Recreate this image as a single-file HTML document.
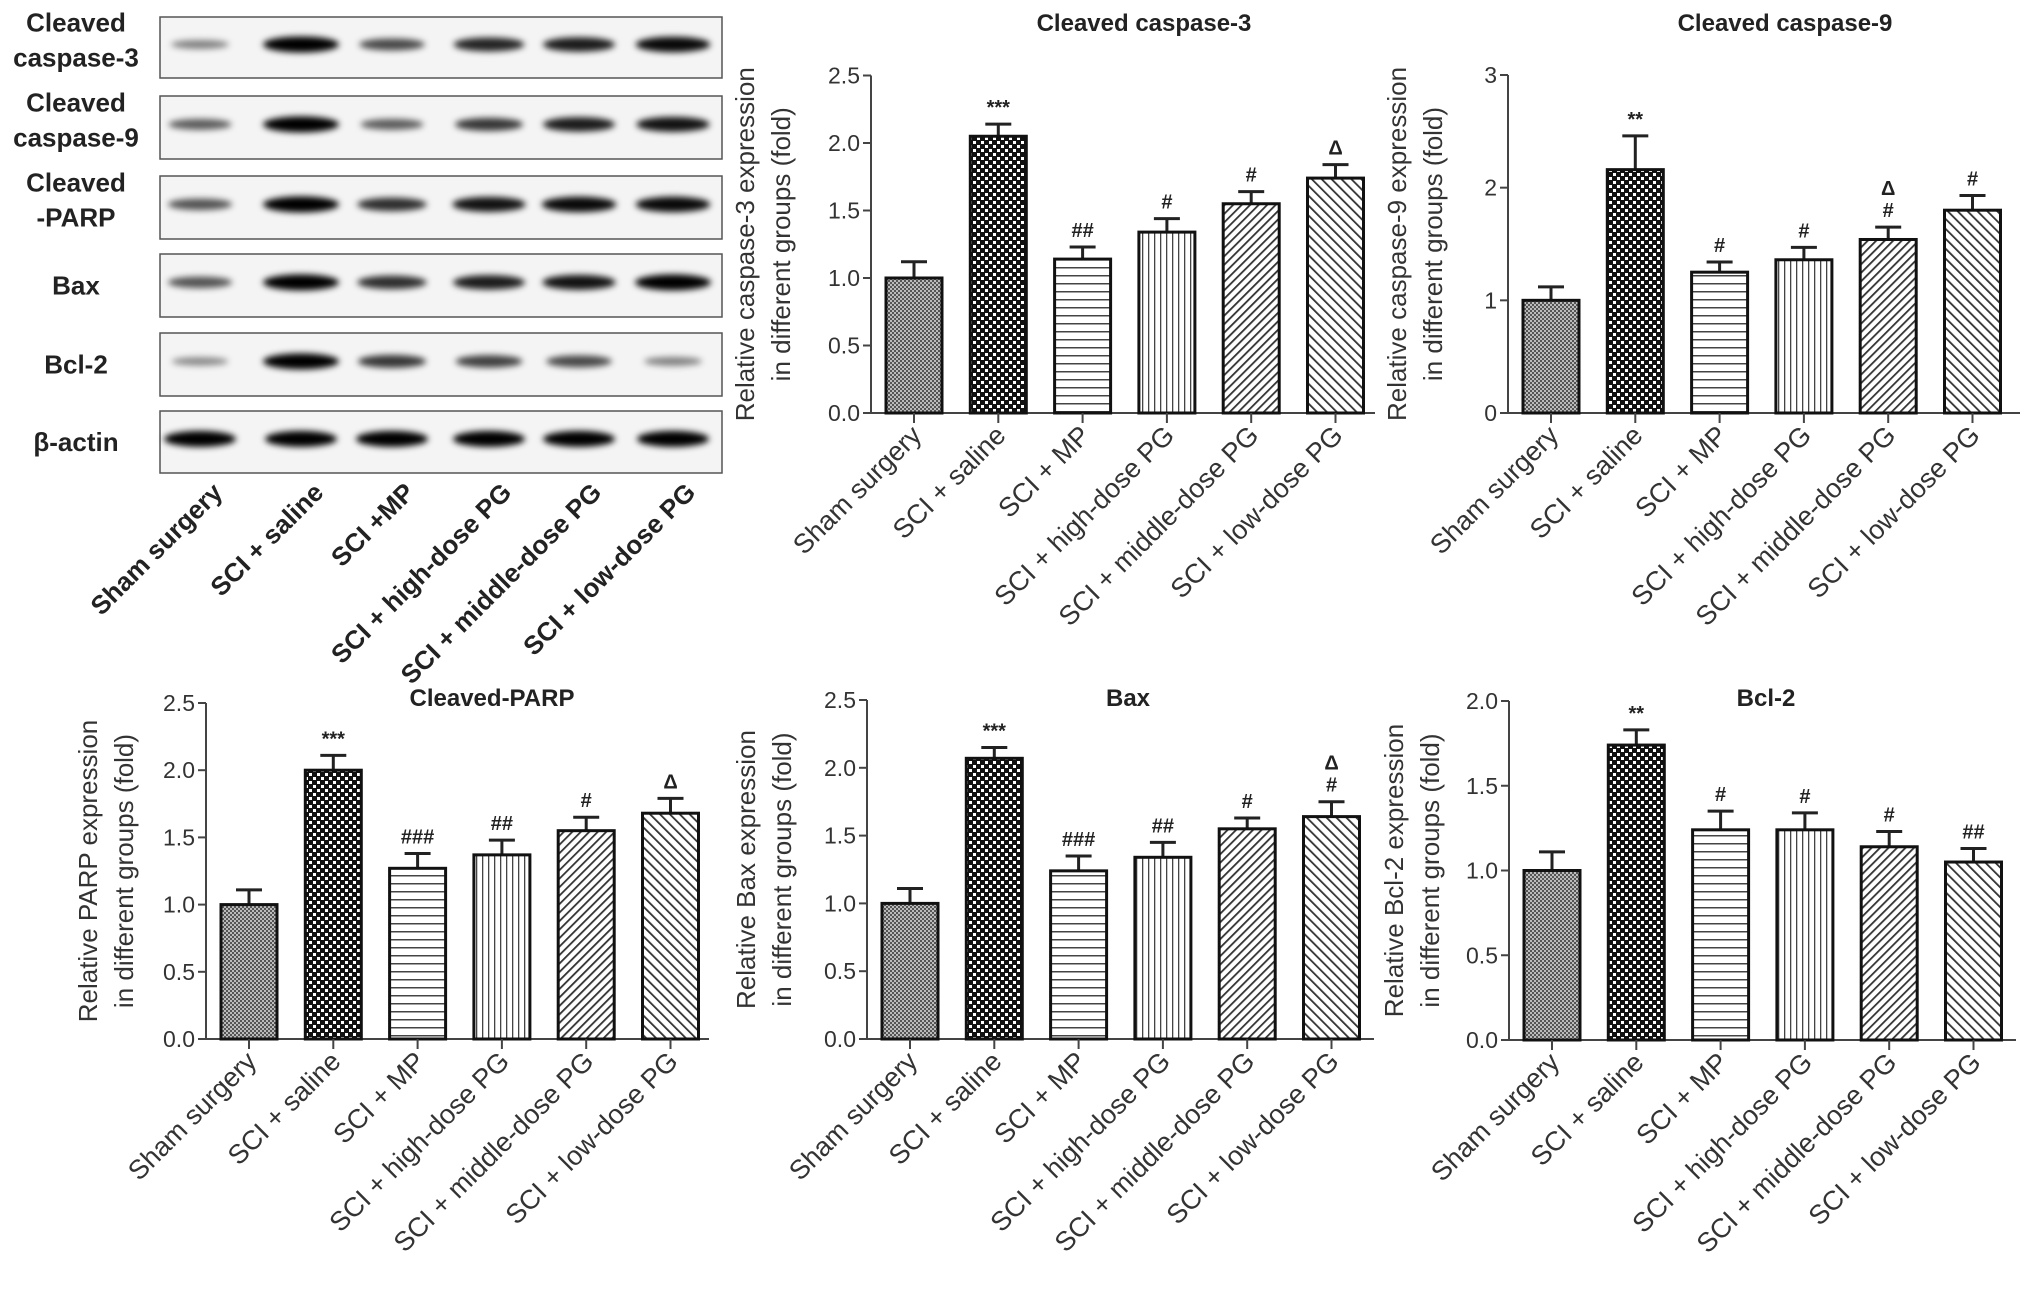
<!DOCTYPE html>
<html><head><meta charset="utf-8"><style>
html,body{margin:0;padding:0;background:#fff;}
svg{display:block;font-family:"Liberation Sans",Arial,sans-serif;}
.tick{font-size:23px;fill:#333;}
.ylab{font-size:26px;fill:#333;}
.xlab{font-size:27px;fill:#333;}
.ttl{font-size:24px;font-weight:bold;fill:#222;font-family:"Liberation Sans Narrow","Liberation Sans",sans-serif;}
.ann{font-size:20px;fill:#222;font-weight:bold;}
.blab{font-size:26px;font-weight:bold;fill:#222;font-family:"Liberation Sans Narrow","Liberation Sans",sans-serif;}
.bx{font-size:26px;font-weight:bold;fill:#222;}
</style></head><body>
<svg id="fig" width="2031" height="1289" viewBox="0 0 2031 1289" xmlns="http://www.w3.org/2000/svg">
<defs>
<pattern id="p0" width="4" height="4" patternUnits="userSpaceOnUse"><rect width="4" height="4" fill="#bbb"/><rect width="2" height="2" fill="#555"/><rect x="2" y="2" width="2" height="2" fill="#555"/></pattern>
<pattern id="p1" width="8" height="8" patternUnits="userSpaceOnUse"><rect width="8" height="8" fill="#111"/><rect x="1" y="1" width="3" height="3" fill="#fff"/><rect x="5" y="5" width="3" height="3" fill="#fff"/></pattern>
<pattern id="p2" width="8" height="8" patternUnits="userSpaceOnUse"><rect width="8" height="8" fill="#fff"/><rect y="3" width="8" height="1.5" fill="#444"/></pattern>
<pattern id="p3" width="6" height="6" patternUnits="userSpaceOnUse"><rect width="6" height="6" fill="#fff"/><rect x="2" width="1.3" height="6" fill="#444"/></pattern>
<pattern id="p4" width="6" height="6" patternUnits="userSpaceOnUse" patternTransform="rotate(45)"><rect width="6" height="6" fill="#fff"/><rect x="2" width="1.8" height="6" fill="#333"/></pattern>
<pattern id="p5" width="7" height="7" patternUnits="userSpaceOnUse" patternTransform="rotate(-45)"><rect width="7" height="7" fill="#fff"/><rect x="2" width="1.8" height="7" fill="#333"/></pattern>
<filter id="blur" x="-30%" y="-100%" width="160%" height="300%"><feGaussianBlur stdDeviation="3.2"/></filter>
</defs>
<g id="blots"></g>
<g id="charts"></g>
</svg>
<script>
const NS="http://www.w3.org/2000/svg";
const categories=["Sham surgery","SCI + saline","SCI + MP","SCI + high-dose PG","SCI + middle-dose PG","SCI + low-dose PG"];
const blotCategories=["Sham surgery","SCI + saline","SCI +MP","SCI + high-dose PG","SCI + middle-dose PG","SCI + low-dose PG"];
const blotRows=[["Cleaved","caspase-3"],["Cleaved","caspase-9"],["Cleaved","-PARP"],["Bax"],["Bcl-2"],["β-actin"]];
const bandC3=[0.3,1,0.6,0.8,0.85,0.95];
const bandC9=[0.5,1,0.5,0.7,0.85,0.9];
const bandPARP=[0.55,1,0.75,0.9,0.95,0.95];
const bandBax=[0.55,1,0.75,0.85,0.9,1];
const bandBcl=[0.25,1,0.7,0.65,0.6,0.3];
const bandActin=[1,1,1,1,1,1];

const c3Values=[1.0,2.05,1.14,1.34,1.55,1.74];
const c3Err=[0.12,0.09,0.09,0.10,0.09,0.10];
const c3Ann=["","***","##","#","#","Δ"];
const c9Values=[1.0,2.16,1.25,1.36,1.54,1.80];
const c9Err=[0.12,0.30,0.09,0.11,0.11,0.13];
const c9Ann=["","**","#","#","Δ\n#","#"];
const parpValues=[1.0,2.0,1.27,1.37,1.55,1.68];
const parpErr=[0.11,0.11,0.11,0.11,0.10,0.11];
const parpAnn=["","***","###","##","#","Δ"];
const baxValues=[1.0,2.07,1.24,1.34,1.55,1.64];
const baxErr=[0.11,0.08,0.11,0.11,0.08,0.11];
const baxAnn=["","***","###","##","#","Δ\n#"];
const bclValues=[1.0,1.74,1.24,1.24,1.14,1.05];
const bclErr=[0.11,0.09,0.11,0.10,0.09,0.08];
const bclAnn=["","**","#","#","#","##"];
const ticks25=["0.0","0.5","1.0","1.5","2.0","2.5"];
const ticks3=["0","1","2","3"];
const ticks2=["0.0","0.5","1.0","1.5","2.0"];

function mk(tag,attrs,parent){const e=document.createElementNS(NS,tag);for(const k in attrs)e.setAttribute(k,attrs[k]);parent.appendChild(e);return e;}

const bg=document.getElementById('blots');
const boxes=[[17,78],[96,159],[176,239],[254,317],[333,396],[411,473]];
const lanes=[200,301,392,489,579,673];
const bands=[bandC3,bandC9,bandPARP,bandBax,bandBcl,bandActin];
boxes.forEach((b,r)=>{
  const g=mk('g',{},bg);
  
  
  const rect=mk('rect',{x:160,y:b[0],width:562,height:b[1]-b[0],fill:'#f4f4f4',stroke:'#555','stroke-width':1.5},g);
  
  
  const cy=b[0]+(b[1]-b[0])*0.45;
  bands[r].forEach((v,i)=>{
    const w=r==5?72:(50+26*v);
    const e=mk('ellipse',{cx:lanes[i],cy:cy,rx:w/2,ry:3+5*v,fill:'#000','fill-opacity':0.25+0.75*v,filter:'url(#blur)'},g);
    
    
  });
  const lines=blotRows[r];
  const mid=(b[0]+b[1])/2;
  lines.forEach((t,j)=>{
    const tx=mk('text',{x:76,y:lines.length==1?mid+9:(j==0?mid-16:mid+19),'text-anchor':'middle',class:'blab'},g);
    tx.textContent=t;
    
    
  });
});
blotCategories.forEach((c,i)=>{
  const t=mk('text',{x:lanes[i]+24,y:494,'text-anchor':'end',class:'bx',transform:`rotate(-45 ${lanes[i]+24} 494)`},bg);
  t.textContent=c;
  
  
});

const cg=document.getElementById('charts');
function chart(o){
  const g=mk('g',{},cg);
  
  
  const yS=v=>o.y0-(v/o.max)*(o.y0-o.yTop);
  const xS=i=>o.ax+43+i*84.3;
  const ya=mk('line',{x1:o.ax,y1:o.yTop,x2:o.ax,y2:o.y0,stroke:'#444','stroke-width':2},g);
  
  
  const xa=mk('line',{x1:o.ax,y1:o.y0,x2:o.xEnd,y2:o.y0,stroke:'#444','stroke-width':2},g);
  
  
  o.ticks.forEach((t,i)=>{
    const v=parseFloat(t),y=yS(v);
    mk('line',{x1:o.ax-8,y1:y,x2:o.ax,y2:y,stroke:'#444','stroke-width':2},g);
    const tx=mk('text',{x:o.ax-11,y:y+8,'text-anchor':'end',class:'tick'},g);
    tx.textContent=t;
    
    
  });
  const yc=(o.yTop+o.y0)/2;
  const l1=mk('text',{x:o.ax-o.lo1,y:yc,'text-anchor':'middle',class:'ylab',transform:`rotate(-90 ${o.ax-o.lo1} ${yc})`},g);
  l1.textContent=o.ylab1;
  
  
  const l2=mk('text',{x:o.ax-o.lo2,y:yc,'text-anchor':'middle',class:'ylab',transform:`rotate(-90 ${o.ax-o.lo2} ${yc})`},g);
  l2.textContent='in different groups (fold)';
  
  
  const tt=mk('text',{x:o.tx,y:o.ty,'text-anchor':'middle',class:'ttl'},g);
  tt.textContent=o.title;
  
  
  o.values.forEach((v,i)=>{
    const cx=xS(i),top=yS(v),et=yS(v+o.err[i]);
    mk('line',{x1:cx,y1:top,x2:cx,y2:et,stroke:'#222','stroke-width':3},g);
    mk('line',{x1:cx-13,y1:et,x2:cx+13,y2:et,stroke:'#222','stroke-width':3},g);
    const r=mk('rect',{x:cx-28,y:top,width:56,height:o.y0-top,fill:`url(#p${i})`,stroke:'#111','stroke-width':3},g);
    
    
    mk('line',{x1:cx,y1:o.y0,x2:cx,y2:o.y0+10,stroke:'#444','stroke-width':2},g);
    const parts=o.ann[i].split('\n').reverse();
    parts.forEach((p,k)=>{
      if(!p)return;
      const a=mk('text',{x:cx,y:et-10-k*22,'text-anchor':'middle',class:'ann'},g);
      a.textContent=p;
      
      
    });
    const lx=cx+9,ly=o.y0+24;
    const xl=mk('text',{x:lx,y:ly,'text-anchor':'end',class:'xlab',transform:`rotate(-45 ${lx} ${ly})`},g);
    xl.textContent=categories[i];
    
    
  });
}
chart({name:'chart-cleaved-caspase-3',ax:871,y0:413,yTop:75.5,max:2.5,xEnd:1375,ticks:ticks25,values:c3Values,err:c3Err,ann:c3Ann,title:'Cleaved caspase-3',tx:1144,ty:31,ylab1:'Relative caspase-3 expression',lo1:117,lo2:81});
chart({name:'chart-cleaved-caspase-9',ax:1508,y0:413,yTop:75,max:3,xEnd:2020,ticks:ticks3,values:c9Values,err:c9Err,ann:c9Ann,title:'Cleaved caspase-9',tx:1785,ty:31,ylab1:'Relative caspase-9 expression',lo1:102,lo2:66});
chart({name:'chart-cleaved-parp',ax:206,y0:1039,yTop:703,max:2.5,xEnd:709,ticks:ticks25,values:parpValues,err:parpErr,ann:parpAnn,title:'Cleaved-PARP',tx:492,ty:706,ylab1:'Relative PARP expression',lo1:109,lo2:73});
chart({name:'chart-bax',ax:867,y0:1039,yTop:700,max:2.5,xEnd:1374,ticks:ticks25,values:baxValues,err:baxErr,ann:baxAnn,title:'Bax',tx:1128,ty:706,ylab1:'Relative Bax expression',lo1:112,lo2:76});
chart({name:'chart-bcl-2',ax:1509,y0:1040,yTop:701,max:2.0,xEnd:2016,ticks:ticks2,values:bclValues,err:bclErr,ann:bclAnn,title:'Bcl-2',tx:1766,ty:706,ylab1:'Relative Bcl-2 expression',lo1:106,lo2:70});
</script>
</body></html>
